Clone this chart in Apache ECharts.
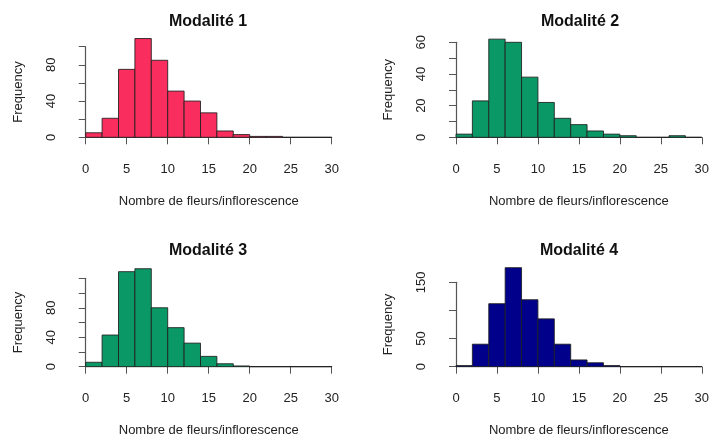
<!DOCTYPE html>
<html>
<head>
<meta charset="utf-8">
<script src="https://cdn.jsdelivr.net/npm/echarts@6/dist/echarts.min.js"></script>
<style>
html,body{margin:0;padding:0;background:#fff;}
#c{width:712px;height:441px;}
</style>
</head>
<body>
<div id="c"></div>
<script>
// Data
const binStarts = [0,2,4,6,8,10,12,14,16,18,20,22,24,26,28];
const binEnds   = [2,4,6,8,10,12,14,16,18,20,22,24,26,28,30];
const titles = ['Modalité 1','Modalité 2','Modalité 3','Modalité 4'];
const counts1 = [5,21,75,109,85,51,40,27,7,3,1,1,0,0,0];
const counts2 = [2,23,62,60,38,22,12,8,4,2,1,0,0,1,0];
const counts3 = [6,43,129,133,80,53,32,14,4,1,0,0,0,0,0];
const counts4 = [2,40,112,176,119,85,40,12,7,2,0,0,0,0,0];
const xTicks = [0,5,10,15,20,25,30];
const yLabels1 = [0,40,80];
const yLabels2 = [0,20,40,60];
const yLabels3 = [0,40,80];
const yLabels4 = [0,50,150];
const xTitle = 'Nombre de fleurs/inflorescence';
const yTitle = 'Frequency';

const colors = ['#F92D5E','#0A9966','#0A9966','#00008B'];
const allCounts = [counts1,counts2,counts3,counts4];
const allLabels = [yLabels1,yLabels2,yLabels3,yLabels4];
const yMax = [100,60,120,150];
const yInt = [20,10,20,50];
const grids = [
  {left:85.7, top:46.7, width:246, height:90.6},
  {left:456, top:42.3, width:246.7, height:95},
  {left:85.7, top:278.3, width:246, height:88.4},
  {left:456, top:282.3, width:246.7, height:84.4}
];
const titlePos = [[203,9],[575,9],[203,238],[574,238]];
const FONT = '"Liberation Sans", Arial, sans-serif';

const option = {
  backgroundColor:'#fff',
  animation:false,
  title: titles.map((t,i)=>({
    text:t, left:titlePos[i][0], top:titlePos[i][1], textAlign:'center',
    textStyle:{fontFamily:FONT,fontSize:16,fontWeight:'bold',color:'#111'}
  })),
  grid: grids,
  xAxis: grids.map((g,i)=>({
    type:'value', gridIndex:i, min:0, max:30, interval:5, offset:5.4,
    axisLine:{show:true,lineStyle:{color:'#555',width:1.2}},
    axisTick:{show:true,length:7,lineStyle:{color:'#555'}},
    splitLine:{show:false},
    axisLabel:{margin:20,fontFamily:FONT,fontSize:13,color:'#222',
      formatter:v=> xTicks.indexOf(v)>=0 ? String(v) : ''},
    name:xTitle, nameLocation:'middle', nameGap:52,
    nameTextStyle:{fontFamily:FONT,fontSize:13,color:'#222'}
  })),
  yAxis: grids.map((g,i)=>({
    type:'value', gridIndex:i, min:0, max:yMax[i], interval:yInt[i], offset:8.7,
    axisLine:{show:true,lineStyle:{color:'#555',width:1.2}},
    axisTick:{show:true,length:7,lineStyle:{color:'#555'}},
    splitLine:{show:false},
    axisLabel:{rotate:90,margin:19,fontFamily:FONT,fontSize:13,color:'#222',
      formatter:v=> allLabels[i].indexOf(v)>=0 ? String(v) : ''},
    name:yTitle, nameLocation:'middle', nameGap:52,
    nameTextStyle:{fontFamily:FONT,fontSize:13,color:'#222'}
  })),
  series: allCounts.map((cs,i)=>({
    type:'custom', xAxisIndex:i, yAxisIndex:i,
    encode:{x:[0,1], y:2},
    data: cs.map((c,k)=>[binStarts[k], binEnds[k], c]),
    renderItem:function(params, api){
      const s = api.coord([api.value(0), api.value(2)]);
      const e = api.coord([api.value(1), 0]);
      return {type:'rect',
        shape:{x:s[0], y:s[1], width:e[0]-s[0], height:e[1]-s[1]},
        style:{fill:colors[i], stroke:'rgba(30,30,30,0.85)', lineWidth:1}};
    }
  }))
};
const chart = echarts.init(document.getElementById('c'), null, {renderer:'canvas'});
chart.setOption(option);
</script>
</body>
</html>
